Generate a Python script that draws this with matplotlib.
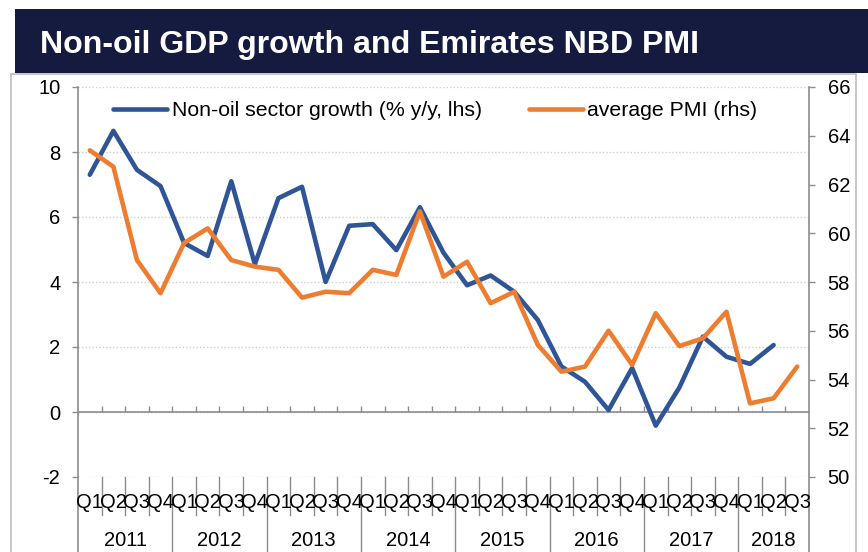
import matplotlib
matplotlib.use('Agg')
import matplotlib.pyplot as plt
from matplotlib.patches import Rectangle
from matplotlib.lines import Line2D
import numpy as np

plt.rcParams['font.family'] = ['Liberation Sans', 'DejaVu Sans']
plt.rcParams['axes.unicode_minus'] = False

# ---------------- data ----------------
quarters = ['Q1', 'Q2', 'Q3', 'Q4'] * 7 + ['Q1', 'Q2', 'Q3']
years = ['2011', '2012', '2013', '2014', '2015', '2016', '2017', '2018']
non_oil_growth = [7.3, 8.65, 7.45, 6.95, 5.2, 4.8, 7.1, 4.55,
                  6.58, 6.93, 4.0, 5.73, 5.78, 4.98, 6.3, 4.9,
                  3.9, 4.2, 3.7, 2.83, 1.4, 0.93, 0.06, 1.35,
                  -0.42, 0.75, 2.32, 1.7, 1.48, 2.06, np.nan]
avg_pmi = [63.4, 62.73, 58.9, 57.54, 59.6, 60.2, 58.9, 58.63,
           58.5, 57.36, 57.6, 57.54, 58.5, 58.29, 60.9, 58.22,
           58.83, 57.13, 57.6, 55.42, 54.32, 54.53, 56.0, 54.6,
           56.72, 55.37, 55.69, 56.78, 53.02, 53.23, 54.53]
series_labels = ['Non-oil sector growth (% y/y, lhs)', 'average PMI (rhs)']
title = 'Non-oil GDP growth and Emirates NBD PMI'

# ---------------- style ----------------
W, H = 868, 552
BLUE = '#2F5597'
ORANGE = '#ED7D31'
GRAY = '#8C8C8C'
NAVY = '#141B3F'
FS = 14.5
LEG_FS = 15.3


def fx(px):
    return px / W


def fy(py):
    return 1 - py / H


fig = plt.figure(figsize=(W / 100, H / 100), dpi=100)

# title bar
fig.patches.append(Rectangle((fx(15), fy(73)), 1 - fx(15), fy(9) - fy(73),
                             transform=fig.transFigure, facecolor=NAVY,
                             edgecolor='none', zorder=0))
fig.text(fx(40), fy(53.5), title, color='white', fontsize=23.1,
         fontweight='bold', ha='left', va='baseline')
# chart frame
fig.patches.append(Rectangle((fx(10.5), -0.1), fx(856) - fx(10.5), fy(74) + 0.1,
                             transform=fig.transFigure, fill=False,
                             edgecolor='#BFBFBF', lw=1.2, zorder=0))

ax_left, ax_right, ax_top, ax_bot = 78, 809, 87, 477
ax = fig.add_axes([fx(ax_left), fy(ax_bot), fx(ax_right) - fx(ax_left),
                   fy(ax_top) - fy(ax_bot)])
ax.set_facecolor('none')
ax2 = ax.twinx()

n = len(quarters)
x = np.arange(n)

ax.set_xlim(-0.5, n - 0.5)
ax.set_ylim(-2, 10)
ax.set_yticks(np.arange(-2, 11, 2))
ax2.set_ylim(50, 66)
ax2.set_yticks(np.arange(50, 67, 2))

for s in ['top', 'right', 'left']:
    ax.spines[s].set_visible(False)
for s in ax2.spines.values():
    s.set_visible(False)
ax.spines['bottom'].set_position(('data', 0))
ax.spines['bottom'].set_color(GRAY)
ax.spines['bottom'].set_linewidth(1.2)
ax.spines['bottom'].set_zorder(1)

ax.set_xticks(np.arange(0.5, n - 1, 1))
ax.tick_params(axis='x', direction='in', length=4.3, width=1, color=GRAY,
               labelbottom=False)
ax.tick_params(axis='y', direction='out', length=4.3, width=1, color=GRAY,
               labelsize=FS, pad=8.4)
ax2.tick_params(axis='y', direction='out', length=4.3, width=1, color=GRAY,
                labelsize=FS, pad=9.2)

ax.yaxis.grid(True, linestyle=(0, (1, 1.5)), color='#CFCFCF', lw=1)
ax.set_axisbelow(True)

# extended axis lines down to bottom of the frame
ext = -(H - ax_bot + 5) / (ax_bot - ax_top)
for xa in (0, 1):
    ax.add_line(Line2D([xa, xa], [1, ext], transform=ax.transAxes,
                       color=GRAY, lw=1.2, clip_on=False))

# category separators
xt = ax.get_xaxis_transform()
q_sep = -(515 - ax_bot) / (ax_bot - ax_top)
for b in np.arange(0.5, n - 1, 1):
    is_year = (int(b + 0.5) % 4 == 0)
    ax.add_line(Line2D([b, b], [0, ext if is_year else q_sep], transform=xt,
                       color=GRAY, lw=1.0, clip_on=False))

# category labels
q_y = -(503 - ax_bot) / (ax_bot - ax_top)
y_y = -(540 - ax_bot) / (ax_bot - ax_top)
for i, q in enumerate(quarters):
    ax.text(i, q_y, q, transform=xt, ha='center', va='center', fontsize=FS)
for k, yr in enumerate(years):
    start = 4 * k
    end = min(4 * k + 3, n - 1)
    ax.text((start + end) / 2, y_y, yr, transform=xt, ha='center',
            va='center', fontsize=FS)

# series
l1, = ax.plot(x, non_oil_growth, color=BLUE, lw=3.3, zorder=3,
              solid_capstyle='round')
l2, = ax2.plot(x, avg_pmi, color=ORANGE, lw=3.3, zorder=3,
               solid_capstyle='round')

fs_px = LEG_FS * 100 / 72
ax2.legend([l1, l2], series_labels, loc='center left',
           bbox_to_anchor=(fx(113), fy(110.5)), bbox_transform=fig.transFigure,
           ncol=2, frameon=False, fontsize=LEG_FS, borderpad=0, borderaxespad=0,
           handlelength=54 / fs_px, handletextpad=4.5 / fs_px,
           columnspacing=47 / fs_px)

fig.savefig('out.png', dpi=100)
